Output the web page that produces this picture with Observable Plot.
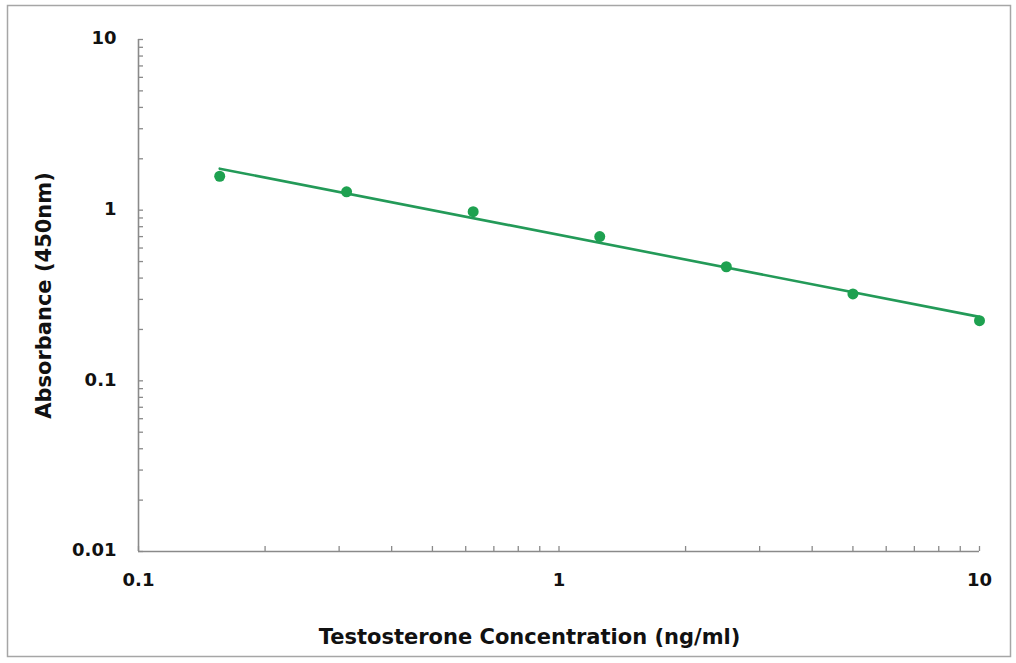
<!DOCTYPE html>
<html>
<head>
<meta charset="utf-8">
<script src="https://cdn.jsdelivr.net/npm/d3@7"></script>
<script src="https://cdn.jsdelivr.net/npm/@observablehq/plot@0.6"></script>
<style>
  html, body { margin: 0; padding: 0; background: #fff; }
  #chart svg { display: block; }
</style>
</head>
<body>
<div id="chart"></div>
<script>
// Data
const concentrations = [0.156, 0.3125, 0.625, 1.25, 2.5, 5, 10];
const absorbance = [1.58, 1.28, 0.98, 0.70, 0.466, 0.323, 0.225];
// Trendline (power fit) endpoints as drawn
const fitX = [0.156, 10];
const fitY = [1.75, 0.237];
// Tick values and labels
const xMajor = [0.1, 1, 10];
const xMajorLabels = ["0.1", "1", "10"];
const yMajor = [0.01, 0.1, 1, 10];
const yMajorLabels = ["0.01", "0.1", "1", "10"];
const minorMult = [2, 3, 4, 5, 6, 7, 8, 9];

const xMinor = [0.1, 1].flatMap(d => minorMult.map(m => +(d * m).toPrecision(3)));
const yMinor = [0.01, 0.1, 1].flatMap(d => minorMult.map(m => +(d * m).toPrecision(3)));
const xTicks = xMajor.concat(xMinor);
const yTicks = yMajor.concat(yMinor);

const points = concentrations.map((c, i) => ({c, a: absorbance[i]}));
const fit = fitX.map((x, i) => ({x, y: fitY[i]}));

const axisColor = "#8a8a8a";
const font = "DejaVu Sans, sans-serif";

const W = 1016, H = 663;
const mL = 138, mR = 37, mT = 39, mB = 112;

const chart = Plot.plot({
  width: W,
  height: H,
  marginLeft: mL,
  marginRight: mR,
  marginTop: mT,
  marginBottom: mB,
  style: {fontFamily: font, background: "#fff", overflow: "visible"},
  x: {type: "log", domain: [0.1, 10], axis: null},
  y: {type: "log", domain: [0.01, 10], axis: null},
  marks: [
    // outer border
    Plot.frame({stroke: "#a6a6a6", strokeWidth: 1.5, insetLeft: -(mL - 7), insetTop: -(mT - 5), insetRight: -(mR - 6), insetBottom: -(mB - 7)}),
    // axis lines
    Plot.ruleX([0.1], {y1: 0.01, y2: 10, stroke: axisColor, strokeWidth: 1.6}),
    Plot.ruleY([0.01], {x1: 0.1, x2: 10, stroke: axisColor, strokeWidth: 1.6}),
    // y ticks (inside)
    Plot.ruleY(yTicks, {y: d => d, x1: 0.1, x2: 0.1, insetRight: -5, stroke: axisColor, strokeWidth: 1.3}),
    // x ticks (inside)
    Plot.ruleX(xTicks, {x: d => d, y1: 0.01, y2: 0.01, insetTop: -5, stroke: axisColor, strokeWidth: 1.3}),
    // tick labels
    Plot.text(yMajor, {x: 0.1, y: d => d, text: (d, i) => yMajorLabels[i], textAnchor: "end", dx: -22, dy: -1, fontSize: 18, fontWeight: "bold", fill: "#111"}),
    Plot.text(xMajor, {x: d => d, y: 0.01, text: (d, i) => xMajorLabels[i], textAnchor: "middle", dy: 29, fontSize: 18, fontWeight: "bold", fill: "#111"}),
    // axis titles
    Plot.text(["Testosterone Concentration (ng/ml)"], {x: 0.1, y: 0.01, text: d => d, dx: 391, dy: 86, fontSize: 21, fontWeight: "bold", fill: "#111", textAnchor: "middle"}),
    Plot.text(["Absorbance (450nm)"], {x: 0.1, y: 0.01, text: d => d, rotate: -90, dx: -94, dy: -256, fontSize: 21, fontWeight: "bold", fill: "#111", textAnchor: "middle"}),
    // trendline
    Plot.line(fit, {x: "x", y: "y", stroke: "#239a58", strokeWidth: 2.6}),
    // data points
    Plot.dot(points, {x: "c", y: "a", r: 5.5, fill: "#1ea150", stroke: "none"})
  ]
});

document.getElementById("chart").append(chart);
</script>
</body>
</html>
